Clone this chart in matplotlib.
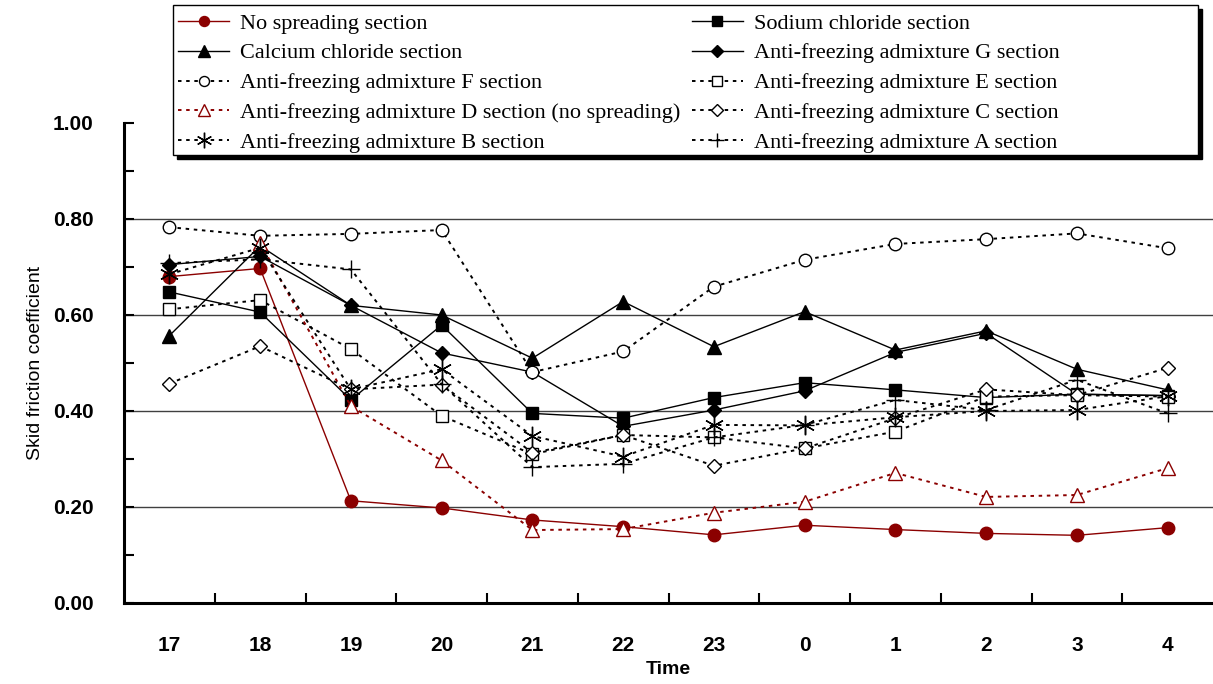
import numpy as np
import matplotlib
matplotlib.use("Agg")
import matplotlib.pyplot as plt
from matplotlib.patches import Rectangle

nan = np.nan

hours = ["17", "18", "19", "20", "21", "22", "23", "0", "1", "2", "3", "4"]

no_spreading = [0.68, 0.697, 0.213, 0.198, 0.173, 0.159, 0.142, 0.162, 0.153, 0.145, 0.141, 0.157]
sodium_chloride = [0.648, 0.606, 0.423, 0.579, 0.395, 0.385, 0.428, 0.459, 0.444, 0.428, 0.435, 0.432]
calcium_chloride = [0.557, 0.744, 0.62, 0.60, 0.51, 0.628, 0.534, 0.607, 0.527, 0.567, 0.487, 0.444]
admix_g = [0.705, 0.722, 0.62, 0.521, 0.481, 0.368, 0.402, 0.442, 0.522, 0.562, 0.435, 0.432]
admix_f = [0.783, 0.765, 0.769, 0.777, 0.481, 0.524, 0.659, 0.715, 0.748, 0.758, 0.770, 0.739]
admix_e = [0.612, 0.631, 0.529, 0.39, 0.31, 0.35, 0.345, 0.322, 0.357, 0.43, 0.433, 0.43]
admix_d = [nan, 0.75, 0.41, 0.297, 0.152, 0.154, 0.188, 0.211, 0.271, 0.221, 0.225, 0.281]
admix_c = [0.457, 0.535, 0.445, 0.455, 0.313, 0.35, 0.286, 0.322, 0.385, 0.445, 0.433, 0.49]
admix_b = [0.685, 0.74, 0.445, 0.487, 0.348, 0.305, 0.371, 0.37, 0.387, 0.40, 0.402, 0.431]
admix_a = [0.708, 0.716, 0.695, 0.456, 0.283, 0.29, 0.345, 0.371, 0.423, 0.402, 0.465, 0.395]

DARK_RED = "#8B0000"
DOT = (0, (1.8, 2.4))
ASTERISK = (6, 2, 0)

# label, values, color, linestyle, marker, marker face
series = [
    ("No spreading section", no_spreading, DARK_RED, "-", "o", DARK_RED),
    ("Sodium chloride section", sodium_chloride, "black", "-", "s", "black"),
    ("Calcium chloride section", calcium_chloride, "black", "-", "^", "black"),
    ("Anti-freezing admixture G section", admix_g, "black", "-", "D", "black"),
    ("Anti-freezing admixture F section", admix_f, "black", DOT, "o", "white"),
    ("Anti-freezing admixture E section", admix_e, "black", DOT, "s", "white"),
    ("Anti-freezing admixture D section (no spreading)", admix_d, DARK_RED, DOT, "^", "white"),
    ("Anti-freezing admixture C section", admix_c, "black", DOT, "D", "white"),
    ("Anti-freezing admixture B section", admix_b, "black", DOT, ASTERISK, "black"),
    ("Anti-freezing admixture A section", admix_a, "black", DOT, "+", "black"),
]
marker_sizes = {"o": 9, "s": 9, "^": 10, "D": 7.5, "+": 13, ASTERISK: 14}

W, H = 1213, 684
fig = plt.figure(figsize=(W / 100, H / 100), dpi=100)
ax = fig.add_axes([124 / W, 81 / H, (W - 124) / W, 480 / H])

x = np.arange(len(hours))
handles = {}
for label, vals, color, ls, marker, face in series:
    (ln,) = ax.plot(x, vals, color=color, linestyle=ls,
                    linewidth=1.0 if ls == "-" else 1.4,
                    marker=marker, markersize=marker_sizes[marker], markerfacecolor=face,
                    markeredgecolor=color, markeredgewidth=1.0, label=label)
    handles[label] = ln

ax.set_xlim(-0.5, len(hours) - 0.5)
ax.set_ylim(0, 1.0)

ax.set_yticks(np.arange(0, 1.01, 0.2))
ax.set_yticks(np.arange(0.1, 1.0, 0.2), minor=True)
ax.set_yticklabels([f"{v:.2f}" for v in np.arange(0, 1.01, 0.2)])
ax.set_xticks(x)
ax.set_xticklabels(hours)
ax.set_xticks(np.arange(0.5, len(hours) - 1, 1.0), minor=True)

for lab in ax.get_xticklabels() + ax.get_yticklabels():
    lab.set_fontfamily("Liberation Sans")
    lab.set_fontweight("bold")
    lab.set_fontsize(15)

ax.tick_params(axis="y", which="both", direction="in", length=7, width=1.5, pad=22)
ax.tick_params(axis="x", which="major", length=0, pad=24)
ax.tick_params(axis="x", which="minor", direction="in", length=7, width=1.5)

for v in [0.2, 0.4, 0.6, 0.8]:
    ax.axhline(v, color="#404040", linewidth=1.0, zorder=0.5)

for side in ["top", "right"]:
    ax.spines[side].set_visible(False)
for side in ["left", "bottom"]:
    ax.spines[side].set_linewidth(2.2)

ax.set_xlabel("Time", fontdict=dict(family="Liberation Sans", weight="bold", size=14), labelpad=4)
ax.set_ylabel("Skid friction coefficient", fontdict=dict(family="Liberation Sans", size=14), labelpad=6)

# legend box with a solid drop shadow, drawn in figure pixels
bx0, by0, bx1, by1 = 173, 5, 1198, 155
fig.patches.append(Rectangle(((bx0 + 4) / W, (H - by1 - 4) / H), (bx1 - bx0) / W, (by1 - by0) / H,
                             transform=fig.transFigure, facecolor="black", edgecolor="black",
                             zorder=1))
fig.patches.append(Rectangle((bx0 / W, (H - by1) / H), (bx1 - bx0) / W, (by1 - by0) / H,
                             transform=fig.transFigure, facecolor="white", edgecolor="black",
                             linewidth=1.0, zorder=1.1))

order = [0, 2, 4, 6, 8, 1, 3, 5, 7, 9]
leg_labels = [series[i][0] for i in order]
leg_handles = [handles[l] for l in leg_labels]
fig.legend(leg_handles, leg_labels, ncol=2, loc="upper left",
           bbox_to_anchor=(178 / W, 1 - 13 / H), bbox_transform=fig.transFigure,
           frameon=False, prop=dict(family="Liberation Serif", size=16),
           handlelength=2.3, handletextpad=0.5, columnspacing=0.5,
           labelspacing=0.42, borderaxespad=0, borderpad=0, markerscale=0.8)

fig.savefig("out.png", dpi=100)
